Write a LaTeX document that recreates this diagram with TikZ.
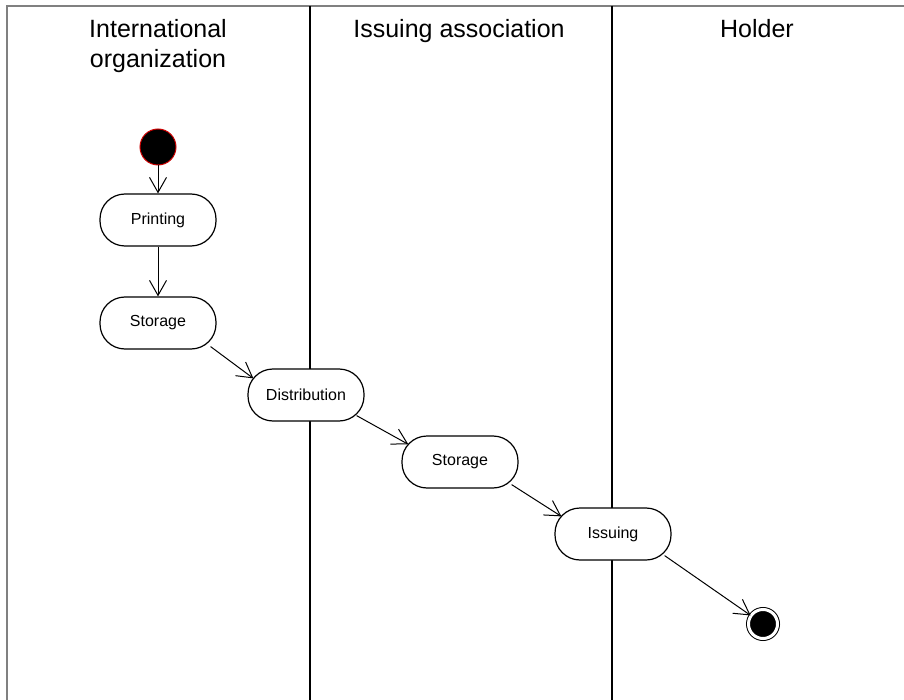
\documentclass[tikz,border=0pt]{standalone}
\usepackage{fontspec}
\setmainfont{Liberation Sans}
\usetikzlibrary{arrows.meta, positioning}

\tikzset{
  activity/.style={draw, fill=white, line width=1.2pt, rounded corners=25pt, minimum width=116pt,
    minimum height=52pt, inner sep=0pt, font=\fontsize{16}{18}\selectfont},
  initial/.style={circle, draw=red!80!black, fill=black, line width=1pt, minimum size=36pt, inner sep=0pt},
  final/.style={circle, draw, fill=black, line width=1pt, minimum size=29pt, inner sep=0pt,
    double=white, double distance=3pt},
  flow/.style={-{Straight Barb[length=15pt,width=17pt]}, line width=1pt},
  lane/.style={line width=1.6pt},
  header/.style={font=\fontsize{25}{30}\selectfont, align=center, anchor=north}
}

\begin{document}
\begin{tikzpicture}[x=1pt, y=-1pt]
\useasboundingbox (0,0) rectangle (904,700);

% swimlanes
\draw [line width=2.2pt, draw=gray] (7,700) -- (7,6) -- (904,6);
\draw [lane] (310,6) -- (310,700);
\draw [lane] (612,6) -- (612,700);

\node [header] (org) at (158,16) {International\\organization};
\node [header] (assoc) at (459,16) {Issuing association};
\node [header] (holder) at (757,16) {Holder};

% activities
\node [initial] (start) at (158,147) {};
\node [activity] (printing) at (158,220) {Printing};
\node [activity] (storeorg) at (158,323) {Storage};
\node [activity] (distrib) at (306,395) {Distribution};
\node [activity] (storeassoc) at (460,462) {Storage};
\node [activity] (issuing) at (613,534) {Issuing};
\node [final] (end) at (763,624) {};

\draw [flow] (start) -- (printing);
\draw [flow] (printing) -- (storeorg);
\draw [flow] ([shift={(-6,-3)}]storeorg.south east) -- ([shift={(6,10)}]distrib.north west);
\draw [flow] ([shift={(-8,-6)}]distrib.south east) -- ([shift={(7,9)}]storeassoc.north west);
\draw [flow] ([shift={(-7,-4)}]storeassoc.south east) -- ([shift={(7,9)}]issuing.north west);
\draw [flow] ([shift={(-7,-5)}]issuing.south east) -- (end);
\end{tikzpicture}
\end{document}
